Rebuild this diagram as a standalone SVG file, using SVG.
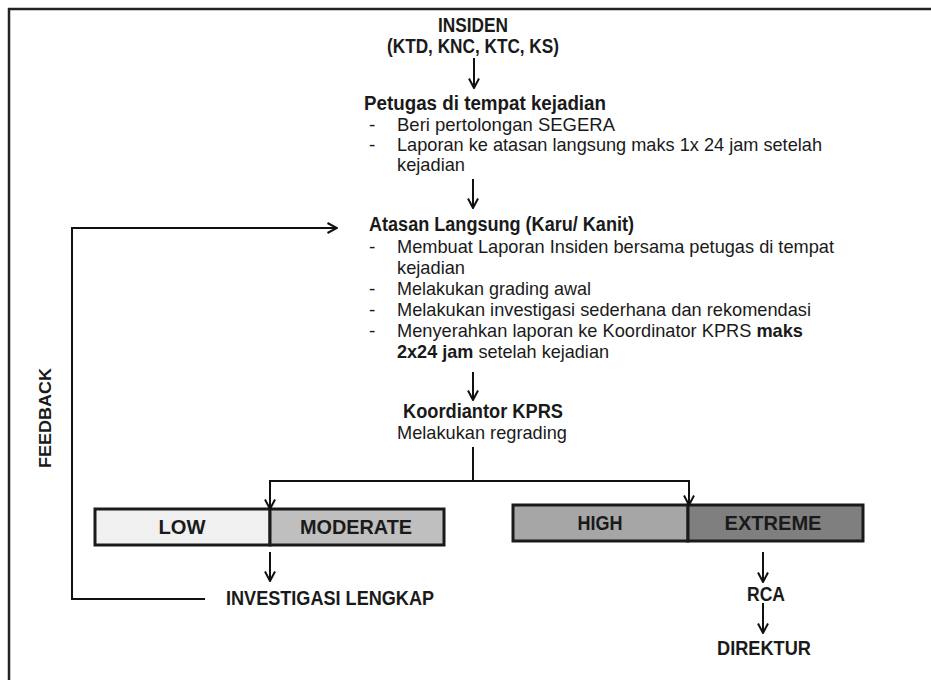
<svg xmlns="http://www.w3.org/2000/svg" width="931" height="680" viewBox="0 0 931 680">
<defs>
<marker id="ah" viewBox="0 0 12 12" refX="11" refY="6" markerWidth="12" markerHeight="12" orient="auto" markerUnits="userSpaceOnUse">
<path d="M1.5,1 L11,6 L1.5,11" fill="none" stroke="#111" stroke-width="2"/>
</marker>
</defs>
<style>
text{font-family:"Liberation Sans",Arial,sans-serif;fill:#1a1a1a}
.b{font-weight:bold;font-size:20px}
.r{font-size:19px}
.bt{font-weight:bold}
.c{stroke:#111;stroke-width:2;fill:none}
.a{stroke:#111;stroke-width:2;fill:none;marker-end:url(#ah)}
.box{stroke:#1a1a1a;stroke-width:3}
</style>
<rect x="9" y="9" width="1000" height="1000" fill="#fff" stroke="#222" stroke-width="2.5"/>

<g id="insiden">
<text class="b" x="473" y="32" text-anchor="middle" textLength="70" lengthAdjust="spacingAndGlyphs">INSIDEN</text>
<text class="b" x="473" y="53" text-anchor="middle" textLength="172" lengthAdjust="spacingAndGlyphs">(KTD, KNC, KTC, KS)</text>
</g>

<g id="petugas">
<text class="b" x="364" y="110" textLength="242" lengthAdjust="spacingAndGlyphs">Petugas di tempat kejadian</text>
<text class="r" x="369" y="131">-</text>
<text class="r" x="397" y="131" textLength="218" lengthAdjust="spacingAndGlyphs">Beri pertolongan SEGERA</text>
<text class="r" x="369" y="151">-</text>
<text class="r" x="397" y="151" textLength="425" lengthAdjust="spacingAndGlyphs">Laporan ke atasan langsung maks 1x 24 jam setelah</text>
<text class="r" x="397" y="171" textLength="68" lengthAdjust="spacingAndGlyphs">kejadian</text>
</g>

<g id="atasan">
<text class="b" x="369" y="231" textLength="265" lengthAdjust="spacingAndGlyphs">Atasan Langsung (Karu/ Kanit)</text>
<text class="r" x="369" y="253">-</text>
<text class="r" x="397" y="253" textLength="437" lengthAdjust="spacingAndGlyphs">Membuat Laporan Insiden bersama petugas di tempat</text>
<text class="r" x="397" y="274" textLength="68" lengthAdjust="spacingAndGlyphs">kejadian</text>
<text class="r" x="369" y="295">-</text>
<text class="r" x="397" y="295" textLength="194" lengthAdjust="spacingAndGlyphs">Melakukan grading awal</text>
<text class="r" x="369" y="316">-</text>
<text class="r" x="397" y="316" textLength="414" lengthAdjust="spacingAndGlyphs">Melakukan investigasi sederhana dan rekomendasi</text>
<text class="r" x="369" y="337">-</text>
<text class="r" x="397" y="337" textLength="406" lengthAdjust="spacingAndGlyphs">Menyerahkan laporan ke Koordinator KPRS <tspan class="bt">maks</tspan></text>
<text class="r" x="397" y="358" textLength="212" lengthAdjust="spacingAndGlyphs"><tspan class="bt">2x24 jam</tspan> setelah kejadian</text>
</g>

<g id="koordinator">
<text class="b" x="403" y="418" textLength="160" lengthAdjust="spacingAndGlyphs">Koordiantor KPRS</text>
<text class="r" x="397" y="439" textLength="170" lengthAdjust="spacingAndGlyphs">Melakukan regrading</text>
</g>

<g id="low-moderate">
<rect class="box" x="95" y="509" width="175" height="36" fill="#f0f0f0"/>
<rect class="box" x="270" y="509" width="174" height="36" fill="#bfbfbf"/>
<text class="b" x="182" y="534" text-anchor="middle" textLength="47" lengthAdjust="spacingAndGlyphs">LOW</text>
<text class="b" x="356" y="534" text-anchor="middle" textLength="112" lengthAdjust="spacingAndGlyphs">MODERATE</text>
</g>

<g id="high-extreme">
<rect class="box" x="513" y="505" width="175" height="36" fill="#a6a6a6"/>
<rect class="box" x="688" y="505" width="175" height="36" fill="#7f7f7f"/>
<text class="b" x="600" y="530" text-anchor="middle" textLength="45" lengthAdjust="spacingAndGlyphs">HIGH</text>
<text class="b" x="773" y="530" text-anchor="middle" textLength="97" lengthAdjust="spacingAndGlyphs">EXTREME</text>
</g>

<g id="investigasi">
<text class="b" x="226" y="605" textLength="208" lengthAdjust="spacingAndGlyphs">INVESTIGASI LENGKAP</text>
</g>

<g id="rca">
<text class="b" x="766" y="601" text-anchor="middle" textLength="38" lengthAdjust="spacingAndGlyphs">RCA</text>
</g>

<g id="direktur">
<text class="b" x="764" y="655" text-anchor="middle" textLength="94" lengthAdjust="spacingAndGlyphs">DIREKTUR</text>
</g>

<g id="feedback">
<text x="0" y="0" transform="translate(51,418) rotate(-90)" text-anchor="middle" style="font-weight:bold;font-size:17px" textLength="100" lengthAdjust="spacingAndGlyphs">FEEDBACK</text>
</g>

<g id="connectors">
<line class="a" x1="474" y1="58" x2="474" y2="88"/>
<line class="a" x1="473" y1="179" x2="473" y2="208"/>
<line class="a" x1="473" y1="372" x2="473" y2="400"/>
<polyline class="c" points="473,447 473,481"/>
<polyline class="c" points="270,509 270,481 689,481 689,505"/>
<line class="a" x1="270" y1="481" x2="270" y2="509"/>
<line class="a" x1="689" y1="481" x2="689" y2="505"/>
<line class="a" x1="270" y1="552" x2="270" y2="581"/>
<line class="a" x1="763" y1="552" x2="763" y2="582"/>
<line class="a" x1="763" y1="603" x2="763" y2="633"/>
<polyline class="a" points="205,599 72,599 72,228 337,228"/>
</g>
</svg>
